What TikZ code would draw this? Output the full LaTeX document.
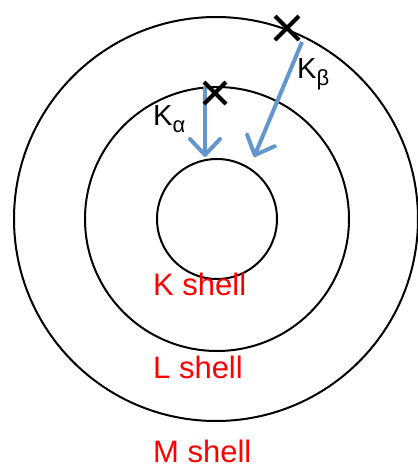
\documentclass[tikz,border=0pt]{standalone}
\usepackage{fontspec}
\setmainfont{Liberation Sans}
\usetikzlibrary{arrows.meta,calc}

\newcommand{\lowsub}[1]{\raisebox{-7pt}{\fontsize{22}{24}\selectfont #1}}

\begin{document}
\begin{tikzpicture}[x=1pt,y=-1pt]
    \useasboundingbox (0,0) rectangle (418,467);
    % Define the centre and the electron positions
    \coordinate (O) at (217,219);
    \coordinate (XL) at (215,93);
    \coordinate (XM) at (287,28);
    \coordinate (KaStart) at (205,87);
    \coordinate (KaEnd) at (205,157);
    \coordinate (KbStart) at (302,42);
    \coordinate (KbEnd) at (254,157);

    % Draw the shells
    \draw[line width=2pt] (O) circle (60);
    \draw[line width=2pt] (O) circle (132);
    \draw[line width=2pt] (216,219) circle (202);

    % Draw the transitions
    \definecolor{kblue}{RGB}{98,150,205}
    \draw[kblue, line width=4pt, -{Straight Barb[length=16pt,width=30pt,round]}] (KaStart) -- (KaEnd);
    \draw[kblue, line width=4pt, -{Straight Barb[length=16pt,width=30pt,round]}] (KbStart) -- (KbEnd);

    % Draw the vacancies
    \draw[line width=4pt] (XL) ++(-11,-11) -- ++(22,22);
    \draw[line width=4pt] (XL) ++(11,-11) -- ++(-22,22);
    \draw[line width=4pt] (XM) ++(-12,-12) -- ++(24,24);
    \draw[line width=4pt] (XM) ++(12,-12) -- ++(-24,24);

    % Place the labels
    \node (Ka) at (153,125) [anchor=base west,inner sep=0,font=\fontsize{29}{32}\selectfont] {K\lowsub{α}};
    \node (Kb) at (297,78) [anchor=base west,inner sep=0,font=\fontsize{29}{32}\selectfont] {K\lowsub{β}};
    \node (K) at (153,295) [anchor=base west,inner sep=0,red,font=\fontsize{31}{36}\selectfont] {K shell};
    \node (L) at (153,378) [anchor=base west,inner sep=0,red,font=\fontsize{31}{36}\selectfont] {L shell};
    \node (M) at (153,462) [anchor=base west,inner sep=0,red,font=\fontsize{31}{36}\selectfont] {M shell};

\end{tikzpicture}
\end{document}
